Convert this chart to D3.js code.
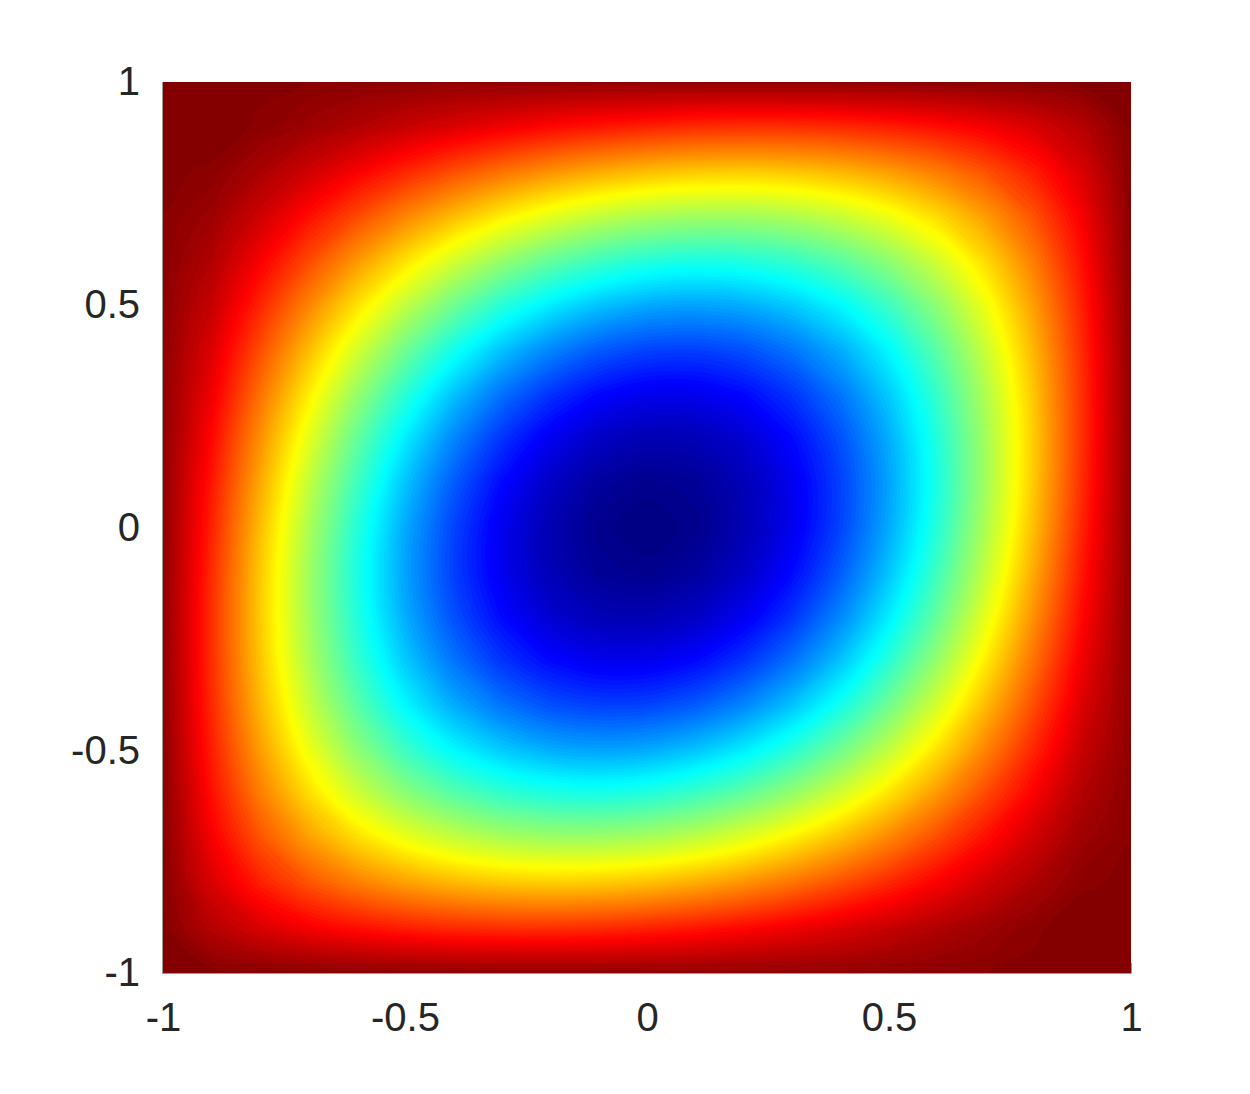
<!DOCTYPE html>
<html>
<head>
<meta charset="utf-8">
<script src="https://cdn.jsdelivr.net/npm/d3@7"></script>
<style>
body {
    margin: 0;
    background: #ffffff;
}
.axis text {
    font-family: "Liberation Sans", Arial, Helvetica, sans-serif;
    font-size: 40px;
    fill: #262626;
}
.axis path, .axis line {
    stroke: #9a9a9a;
    stroke-width: 1;
}
</style>
</head>
<body>
<div id="plot"></div>
<script>

// grid columns (x) and rows (y, top to bottom)
var xValues = [-1, -0.9, -0.8, -0.7, -0.6, -0.5, -0.4, -0.3, -0.2, -0.1, 0, 0.1, 0.2, 0.3, 0.4, 0.5, 0.6, 0.7, 0.8, 0.9, 1];
var yValues = [1, 0.9, 0.8, 0.7, 0.6, 0.5, 0.4, 0.3, 0.2, 0.1, 0, -0.1, -0.2, -0.3, -0.4, -0.5, -0.6, -0.7, -0.8, -0.9, -1];

// field values (0 = darkest blue, 1 = dark red)
var zValues = [
  [1, .998, .995, .992, .99, .988, .985, .985, .985, .985, .985, .985, .985, .985, .985, .988, .99, .992, .995, .998, 1],
  [.998, 1, .990, .973, .953, .931, .910, .890, .871, .856, .844, .835, .831, .832, .837, .848, .864, .885, .913, .949, .998],
  [.995, .990, .960, .923, .882, .841, .802, .766, .735, .710, .691, .680, .677, .683, .698, .722, .755, .797, .849, .913, .995],
  [.992, .973, .923, .865, .806, .747, .692, .643, .601, .568, .546, .535, .536, .548, .573, .611, .661, .723, .797, .885, .992],
  [.99, .953, .882, .806, .728, .654, .585, .524, .474, .437, .412, .402, .408, .428, .464, .515, .581, .661, .755, .864, .99],
  [.988, .931, .841, .747, .654, .565, .485, .415, .359, .318, .293, .286, .296, .325, .371, .435, .515, .611, .722, .848, .988],
  [.985, .910, .802, .692, .585, .485, .395, .318, .258, .215, .191, .187, .203, .240, .296, .371, .464, .573, .698, .837, .985],
  [.985, .890, .766, .643, .524, .415, .318, .237, .174, .131, .109, .109, .131, .175, .240, .325, .428, .548, .683, .832, .985],
  [.985, .871, .735, .601, .474, .359, .258, .174, .111, .068, .049, .053, .080, .131, .203, .296, .408, .536, .677, .831, .985],
  [.985, .856, .710, .568, .437, .318, .215, .131, .068, .028, .012, .021, .053, .109, .187, .286, .402, .535, .680, .835, .985],
  [.985, .844, .691, .546, .412, .293, .191, .109, .049, .012, 0, .012, .049, .109, .191, .293, .412, .546, .691, .844, .985],
  [.985, .835, .680, .535, .402, .286, .187, .109, .053, .021, .012, .028, .068, .131, .215, .318, .437, .568, .710, .856, .985],
  [.985, .831, .677, .536, .408, .296, .203, .131, .080, .053, .049, .068, .111, .174, .258, .359, .474, .601, .735, .871, .985],
  [.985, .832, .683, .548, .428, .325, .240, .175, .131, .109, .109, .131, .174, .237, .318, .415, .524, .643, .766, .890, .985],
  [.985, .837, .698, .573, .464, .371, .296, .240, .203, .187, .191, .215, .258, .318, .395, .485, .585, .692, .802, .910, .985],
  [.988, .848, .722, .611, .515, .435, .371, .325, .296, .286, .293, .318, .359, .415, .485, .565, .654, .747, .841, .931, .988],
  [.99, .864, .755, .661, .581, .515, .464, .428, .408, .402, .412, .437, .474, .524, .585, .654, .728, .806, .882, .953, .99],
  [.992, .885, .797, .723, .661, .611, .573, .548, .536, .535, .546, .568, .601, .643, .692, .747, .806, .865, .923, .973, .992],
  [.995, .913, .849, .797, .755, .722, .698, .683, .677, .680, .691, .710, .735, .766, .802, .841, .882, .923, .960, .990, .995],
  [.998, .949, .913, .885, .864, .848, .837, .832, .831, .835, .844, .856, .871, .890, .910, .931, .953, .973, .990, 1, .998],
  [1, .998, .995, .992, .99, .988, .985, .985, .985, .985, .985, .985, .985, .985, .985, .988, .99, .992, .995, .998, 1]
];

var xTicks = [-1, -0.5, 0, 0.5, 1];
var yTicks = [-1, -0.5, 0, 0.5, 1];

// jet colormap
var jetStops = [0, 0.125, 0.375, 0.625, 0.875, 1];
var jetColors = ["#000080", "#0000ff", "#00ffff", "#ffff00", "#ff0000", "#800000"];
var levels = 128;

var margin = {top: 82, right: 119, bottom: 121, left: 163};
var width = 1250 - margin.left - margin.right;
var height = 1094 - margin.top - margin.bottom;

var svg = d3.select("#plot")
  .append("svg")
  .attr("width", 1250)
  .attr("height", 1094);

var x = d3.scaleLinear()
  .domain([-1, 1])
  .range([margin.left, margin.left + width]);

var y = d3.scaleLinear()
  .domain([-1, 1])
  .range([margin.top + height, margin.top]);

var color = d3.scaleLinear()
  .domain(jetStops)
  .range(jetColors)
  .clamp(true);

// axes go underneath the image, like matlab's default layer
var xAxis = d3.axisBottom(x)
  .tickValues(xTicks)
  .tickFormat(function(d){ return String(d); })
  .tickSizeInner(-10)
  .tickSizeOuter(0)
  .tickPadding(30);

var yAxis = d3.axisLeft(y)
  .tickValues(yTicks)
  .tickFormat(function(d){ return String(d); })
  .tickSizeInner(-10)
  .tickSizeOuter(0)
  .tickPadding(22);

svg.append("g")
  .attr("class", "x axis")
  .attr("transform", "translate(0," + (margin.top + height) + ")")
  .call(xAxis);

svg.append("g")
  .attr("class", "y axis")
  .attr("transform", "translate(" + (margin.left - 1) + ",0)")
  .call(yAxis);

svg.selectAll(".axis .domain").attr("stroke", "#9a9a9a");

// contour bands from the grid
var nx = xValues.length;
var ny = yValues.length;
var flat = [];
zValues.forEach(function(row){ row.forEach(function(v){ flat.push(v); }); });

var thresholds = d3.range(levels).map(function(i){ return i / levels; });

var contours = d3.contours()
  .size([nx, ny])
  .thresholds(thresholds)(flat);

// contour grid coords -> pixels (sample k sits at k + 0.5)
var gx = d3.scaleLinear()
  .domain([0.5, nx - 0.5])
  .range([x(xValues[0]), x(xValues[nx - 1])]);
var gy = d3.scaleLinear()
  .domain([0.5, ny - 0.5])
  .range([y(yValues[0]), y(yValues[ny - 1])]);

var ringLine = d3.line().curve(d3.curveCatmullRomClosed.alpha(0.5));

function bandPath(c){
  return c.coordinates.map(function(poly){
    return poly.map(function(ring){
      var pts = ring.slice(0, -1).map(function(p){ return [gx(p[0]), gy(p[1])]; });
      return ringLine(pts);
    }).join("");
  }).join("");
}

svg.append("clipPath")
  .attr("id", "plotClip")
  .append("rect")
  .attr("x", margin.left)
  .attr("y", margin.top)
  .attr("width", width)
  .attr("height", height);

svg.append("g")
  .attr("clip-path", "url(#plotClip)")
  .selectAll("path.band")
  .data(contours)
  .enter().append("path")
  .attr("class", "band")
  .attr("d", bandPath)
  .attr("fill", function(d){ return color(d.value + 0.5 / levels); });

</script>
</body>
</html>
